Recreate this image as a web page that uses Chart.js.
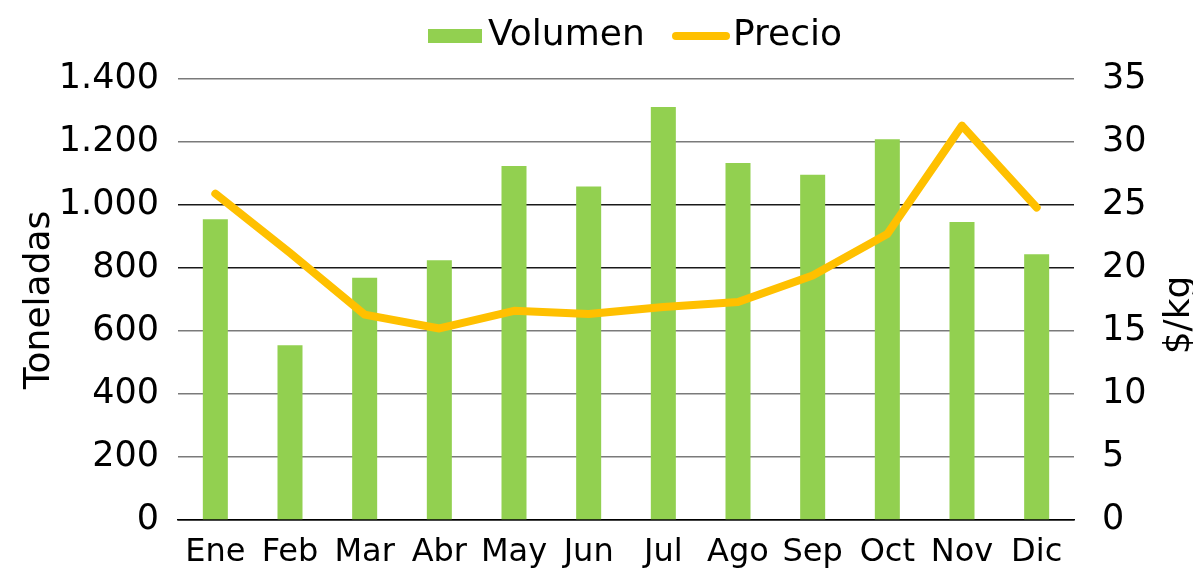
<!DOCTYPE html>
<html>
<head>
<meta charset="utf-8">
<script src="https://cdn.jsdelivr.net/npm/chart.js@4"></script>
<style>
  html, body { margin: 0; padding: 0; background: #fff; }
  canvas { display: block; }
</style>
</head>
<body>
<canvas id="c" width="1193" height="574"></canvas>
<script>
const categories = ['Ene','Feb','Mar','Abr','May','Jun','Jul','Ago','Sep','Oct','Nov','Dic'];
const volumen = [955, 555, 769, 825, 1124, 1059, 1311, 1133, 1096, 1209, 946, 844];
const precio = [25.9, 21.2, 16.3, 15.2, 16.6, 16.35, 16.9, 17.3, 19.4, 22.7, 31.3, 24.8];
const seriesNames = ['Volumen', 'Precio'];
const axisTitles = ['Toneladas', '$/kg'];

const FONT = "'DejaVu Sans', sans-serif";
const GREEN = '#92D050';
const ORANGE = '#FFC000';

function fmtThousands(v) {
  return String(v).replace(/\B(?=(\d{3})+(?!\d))/g, '.');
}

const decor = {
  id: 'decor',
  afterDraw(chart) {
    const ctx = chart.ctx;
    ctx.save();
    ctx.fillStyle = '#000';
    ctx.font = '36px ' + FONT;
    ctx.textBaseline = 'alphabetic';
    // legend
    ctx.fillStyle = GREEN;
    ctx.fillRect(428, 29, 54, 14);
    ctx.fillStyle = '#000';
    ctx.textAlign = 'left';
    ctx.fillText(seriesNames[0], 488, 45);
    ctx.strokeStyle = ORANGE;
    ctx.lineWidth = 8;
    ctx.lineCap = 'round';
    ctx.beginPath();
    ctx.moveTo(676, 36);
    ctx.lineTo(726, 36);
    ctx.stroke();
    ctx.fillText(seriesNames[1], 733, 45);
    // axis titles (both read bottom to top)
    ctx.textAlign = 'center';
    ctx.textBaseline = 'middle';
    ctx.save();
    ctx.translate(40, 300);
    ctx.rotate(-Math.PI / 2);
    ctx.fillText(axisTitles[0], 0, 0);
    ctx.restore();
    ctx.save();
    ctx.translate(1180, 315);
    ctx.rotate(-Math.PI / 2);
    ctx.fillText(axisTitles[1], 0, 0);
    ctx.restore();
    ctx.restore();
  }
};

new Chart(document.getElementById('c'), {
  data: {
    labels: categories,
    datasets: [
      {
        type: 'line',
        label: seriesNames[1],
        data: precio,
        yAxisID: 'y1',
        borderColor: ORANGE,
        backgroundColor: ORANGE,
        borderWidth: 8,
        pointRadius: 0,
        pointHoverRadius: 0,
        tension: 0,
        borderCapStyle: 'round',
        borderJoinStyle: 'round',
        order: 0
      },
      {
        type: 'bar',
        label: seriesNames[0],
        data: volumen,
        yAxisID: 'y',
        backgroundColor: GREEN,
        borderWidth: 0,
        categoryPercentage: 1,
        barPercentage: 0.335,
        order: 1
      }
    ]
  },
  options: {
    responsive: false,
    animation: false,
    devicePixelRatio: 1,
    layout: { padding: { top: 79, bottom: 0, left: 0, right: 0 } },
    plugins: {
      legend: { display: false },
      tooltip: { enabled: false }
    },
    scales: {
      x: {
        grid: { display: false, drawTicks: false },
        border: { display: true, color: '#000', width: 1.5 },
        ticks: { color: '#000', font: { family: FONT, size: 32 }, padding: 13, maxRotation: 0, autoSkip: false },
        afterFit(s) { s.height = 54; }
      },
      y: {
        position: 'left',
        min: 0, max: 1400,
        ticks: {
          stepSize: 200,
          color: '#000',
          font: { family: FONT, size: 35 },
          padding: 19,
          callback: (v) => fmtThousands(v)
        },
        grid: {
          drawTicks: false,
          color: (c) => (c.tick && (c.tick.value === 0 || c.tick.value === 800 || c.tick.value === 1000)) ? '#1a1a1a' : '#7a7a7a',
          lineWidth: 1.5
        },
        border: { display: false },
        afterFit(s) { s.width = 178; }
      },
      y1: {
        position: 'right',
        min: 0, max: 35,
        ticks: {
          stepSize: 5,
          color: '#000',
          font: { family: FONT, size: 35 },
          padding: 28
        },
        grid: { display: false, drawTicks: false },
        border: { display: false },
        afterFit(s) { s.width = 119; }
      }
    }
  },
  plugins: [decor]
});
</script>
</body>
</html>
